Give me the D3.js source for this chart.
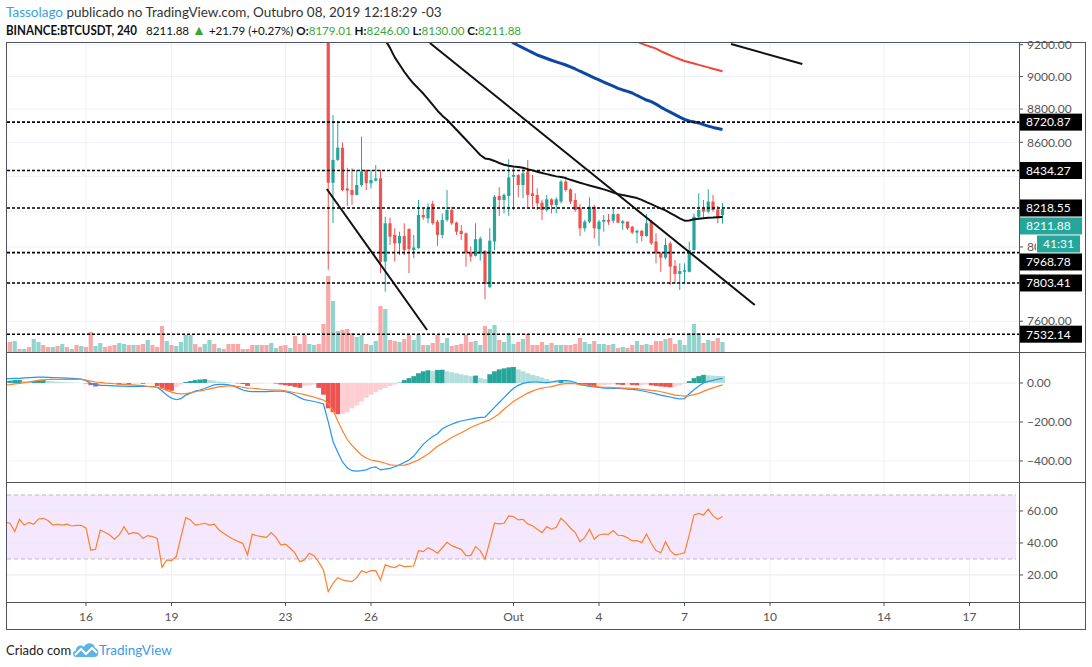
<!DOCTYPE html>
<html>
<head>
<meta charset="utf-8">
<script src="https://cdn.jsdelivr.net/npm/d3@7"></script>
<style>
  body { margin: 0; background: #fff; }
  svg text { font-family: Lato, "Liberation Sans", sans-serif; }
</style>
</head>
<body>
<svg id="chart" width="1092" height="667"></svg>
<script>
// ---- data (BINANCE:BTCUSDT, 240) ----
const dateTicks = [17, 35, 59, 77, 107, 125, 143, 161, 185, 203];   // bar index of each date label
const dateLabels = ["16", "19", "23", "26", "Out", "4", "7", "10", "14", "17"];

const priceTicks = [7600, 7800, 8000, 8200, 8400, 8600, 8800, 9000, 9200];
const macdTicks = [0, -200, -400];
const rsiTicks = [60, 40, 20];

// candles visible in the price pane start at bar 68 (earlier bars sit above 9200)
const candleStart = 68;
const open = [9660, 8363, 8496, 8568, 8330, 8321, 8293, 8350, 8437, 8360, 8375, 8389, 7919, 8132, 8067, 8020, 8061, 8100, 7983, 7993,
  8179, 8160, 8243, 8141, 8067, 8151, 8207, 8136, 8090, 8076, 7970, 7951, 7963, 7978, 7781, 8030, 8287, 8264, 8287, 8398,
  8408, 8350, 8428, 8302, 8293, 8249, 8207, 8268, 8236, 8255, 8370, 8325, 8264, 8217, 8104, 8141, 8226, 8099, 8141, 8151,
  8147, 8184, 8132, 8141, 8113, 8080, 8090, 8061, 8141, 8030, 7965, 7941, 8020, 7896, 7852, 7864, 7864, 7983, 8169, 8217,
  8198, 8255, 8210, 8179.01];
const high = [9700, 8764, 8724, 8600, 8450, 8447, 8437, 8634, 8440, 8437, 8466, 8437, 8169, 8165, 8104, 8085, 8132, 8104, 8067, 8264,
  8217, 8245, 8260, 8151, 8188, 8321, 8226, 8141, 8123, 8080, 8002, 8132, 8057, 7983, 8104, 8293, 8337, 8302, 8500, 8452,
  8413, 8447, 8496, 8408, 8331, 8264, 8293, 8274, 8279, 8379, 8398, 8331, 8302, 8240, 8151, 8279, 8236, 8151, 8179, 8184,
  8217, 8188, 8151, 8143, 8117, 8095, 8095, 8184, 8151, 8076, 7974, 8048, 8030, 7928, 7910, 7910, 8030, 8188, 8302, 8264,
  8325, 8293, 8230, 8246];
const low = [7875, 8133, 8490, 8315, 8230, 8236, 8290, 8341, 8321, 8331, 8370, 7856, 7757, 8011, 7919, 7956, 7956, 7856, 7938, 7990,
  8151, 8132, 8123, 8006, 8048, 8141, 8123, 8067, 8039, 7892, 7919, 7947, 7925, 7716, 7775, 7983, 8173, 8188, 8173, 8207,
  8279, 8274, 8222, 8226, 8207, 8151, 8198, 8188, 8188, 8245, 8312, 8241, 8198, 8061, 8085, 8132, 8048, 8006, 8085, 8123,
  8132, 8132, 8095, 8095, 8072, 8020, 8030, 8057, 8011, 7910, 7864, 7932, 7793, 7802, 7766, 7802, 7861, 7980, 8160, 8165,
  8188, 8198, 8132, 8130];
const close = [8363, 8496, 8568, 8321, 8318, 8293, 8350, 8428, 8360, 8379, 8389, 7919, 8132, 8057, 8020, 8061, 7983, 7988, 7997, 8179,
  8165, 8217, 8132, 8067, 8151, 8207, 8132, 8085, 8072, 7970, 7947, 8043, 8046, 7798, 8035, 8283, 8264, 8293, 8394, 8408,
  8350, 8418, 8293, 8287, 8245, 8207, 8268, 8236, 8268, 8370, 8321, 8255, 8207, 8104, 8141, 8226, 8104, 8141, 8151, 8141,
  8184, 8136, 8143, 8104, 8080, 8090, 8061, 8132, 8020, 7965, 7941, 8011, 7892, 7852, 7868, 7873, 7983, 8169, 8207, 8198,
  8255, 8207, 8169, 8211.88];

// volume, thousand BTC, for all 152 bars
const volumeK = [9, 10, 11, 3, 3, 5, 13, 10, 7, 5, 5, 6, 8, 5, 3, 7, 6, 5, 20, 6,
  9, 5, 6, 7, 9, 8, 7, 7, 7, 8, 12, 7, 5, 26, 11, 7, 6, 10, 17, 17,
  8, 5, 8, 12, 8, 4, 3, 8, 8, 8, 3, 3, 7, 7, 7, 7, 9, 4, 6, 7,
  4, 16, 8, 17, 8, 7, 8, 28, 76, 51, 21, 22, 23, 19, 15, 17, 8, 7, 11, 46,
  43, 12, 11, 10, 13, 17, 12, 17, 7, 7, 9, 17, 9, 14, 6, 7, 8, 17, 10, 11,
  7, 26, 23, 27, 12, 10, 19, 8, 10, 13, 18, 7, 7, 10, 7, 9, 7, 7, 7, 7,
  8, 14, 10, 8, 11, 8, 8, 7, 8, 4, 5, 4, 7, 11, 7, 8, 7, 11, 11, 13,
  14, 8, 12, 7, 19, 28, 19, 9, 12, 11, 14, 10];
// up/down of the bars hidden above the pane (0..67)
const volDirEarly = ("ddududuudd" + "ududududdu" + "uddduududd" + "uddduduuuu" +
  "dduududddd" + "dddudduudd" + "uddduudd").split("");

// moving averages
const maBlackStart = 78;
const maBlack = [9350, 9290, 9230, 9180, 9120, 9075, 9030, 8990, 8955, 8925, 8895, 8860, 8825, 8790, 8760, 8735, 8705, 8675, 8645, 8615,
  8585, 8555, 8525, 8505, 8500, 8490, 8478, 8468, 8462, 8457, 8455, 8450, 8442, 8435, 8427, 8420, 8413, 8406, 8400, 8396,
  8390, 8380, 8372, 8363, 8355, 8347, 8340, 8333, 8325, 8316, 8306, 8298, 8292, 8287, 8281, 8275, 8265, 8252, 8240, 8228,
  8216, 8205, 8190, 8175, 8160, 8147, 8148, 8155, 8158, 8161, 8163, 8164, 8166, 8167];
const maBlueStart = 106;
const maBlue = [9235, 9211, 9195, 9180, 9165, 9150, 9135, 9124, 9113, 9102, 9092, 9082, 9072, 9060, 9047, 9033, 9020, 9006, 8992, 8979,
  8966, 8953, 8940, 8927, 8917, 8908, 8898, 8883, 8869, 8855, 8845, 8830, 8812, 8796, 8781, 8766, 8751, 8737, 8728, 8722,
  8716, 8706, 8697, 8689, 8683, 8677];
const maRedStart = 133;
const maRed = [9220, 9207, 9196, 9186, 9175, 9160, 9146, 9133, 9120, 9108, 9097, 9089, 9081, 9073, 9065, 9057, 9049, 9041, 9033];

// drawn trend lines [barIndex, price]
const trendLines = [
  [[89.4, 9211], [157.8, 7686]],
  [[67.7, 8327], [88.8, 7554]],
  [[152.8, 9205], [167.8, 9078]]
];
const levels = [8720.87, 8434.27, 8218.55, 7968.78, 7803.41, 7532.14];
const lastPrice = 8211.88;
const countdown = "41:31";

// MACD (12, 26, 9)
const macd = [22, 23, 24, 24, 26, 28, 29, 30, 30, 29, 28, 27, 26, 25, 24, 22, 20, 12, -2, -8,
  -12, -13, -14, -15, -16, -16, -17, -17, -17, -18, -18, -19, -22, -40, -62, -78, -86, -80, -62, -52,
  -42, -36, -28, -18, -10, -7, -7, -10, -15, -25, -36, -42, -44, -44, -44, -44, -43, -42, -41, -45,
  -51, -62, -75, -85, -90, -95, -100, -108, -200, -300, -355, -405, -435, -450, -452, -450, -446, -435, -430, -446,
  -442, -438, -430, -420, -408, -395, -375, -345, -315, -293, -275, -260, -235, -222, -212, -202, -195, -190, -185, -180,
  -176, -175, -150, -125, -100, -75, -50, -27, -12, -2, 3, 5, 5, 3, 2, 5, 10, 12, 12, 10,
  2, -8, -12, -17, -20, -23, -26, -27, -28, -28, -29, -31, -33, -35, -40, -45, -50, -56, -62, -67,
  -72, -78, -82, -80, -55, -35, -15, 0, 8, 13, 19, 24];
const signal = [-10, -8, -5, -2, 2, 6, 10, 13, 16, 18, 19, 19, 19, 19, 19, 19, 19, 15, 10, 5,
  3, 0, -2, -4, -6, -7, -8, -10, -12, -14, -17, -19, -21, -28, -38, -47, -53, -56, -55, -50,
  -45, -40, -36, -30, -25, -20, -17, -15, -15, -18, -22, -26, -27, -29, -32, -34, -35, -36, -36, -40,
  -45, -50, -54, -60, -66, -72, -80, -87, -105, -140, -195, -245, -290, -320, -345, -370, -385, -395, -400, -405,
  -412, -420, -422, -422, -421, -415, -405, -395, -380, -365, -345, -325, -310, -295, -280, -267, -255, -242, -228, -218,
  -208, -198, -190, -175, -158, -135, -115, -95, -80, -65, -52, -42, -32, -26, -22, -19, -12, -6, -3, -2,
  -4, -8, -10, -13, -17, -20, -22, -23, -24, -25, -26, -26, -27, -29, -32, -35, -38, -40, -45, -50,
  -56, -62, -65, -67, -65, -60, -53, -43, -33, -25, -17, -10];
const histogram = [10, 12, 15, 15, 8, 5, 10, 15, 15, 10, 8, 6, 5, 3, 2, 1, 0, -2, -10, -18,
  -15, -8, -5, -3, -8, -3, -5, -3, -2, -4, -2, -1, -15, -25, -35, -40, -20, -8, 5, 10,
  15, 18, 20, 15, 12, 8, 5, 2, 0, -2, -5, -15, -3, -2, -2, -1, -1, -3, -8, -12,
  -15, -20, -25, -15, -12, -8, -25, -60, -130, -150, -160, -160, -150, -130, -115, -95, -75, -60, -47, -35,
  -25, -15, -8, 2, 15, 25, 35, 50, 60, 65, 62, 67, 68, 60, 55, 50, 45, 40, 35, 38,
  25, 20, 45, 60, 70, 75, 80, 82, 70, 60, 50, 42, 35, 28, 20, 12, 6, 12, 8, 5,
  2, -5, -8, -12, -15, -12, -10, -8, -6, -8, -10, -8, -10, -12, -10, -8, -12, -15, -18, -20,
  -22, -18, -12, -5, 10, 25, 35, 42, 40, 38, 36, 35];

// RSI (14)
const rsi = [53, 52.3, 47.1, 54.8, 51.2, 52.9, 51.7, 55, 55.4, 54, 51.2, 51.7, 51.2, 51.7, 50.6, 51, 51, 49.2, 35.6, 36,
  48.1, 46.7, 45, 42.3, 45, 50.2, 45.6, 46.5, 46, 42.9, 44.6, 44, 42.9, 24.8, 29.4, 29, 31.5, 44, 55.8, 54.4,
  51.2, 51.7, 52.3, 51.2, 51.7, 48.1, 46, 44, 42.3, 41, 39.8, 32.5, 45.4, 44.5, 44, 43.5, 46.5, 43.5, 38.8, 39.2,
  36.7, 33.6, 28.3, 29.4, 33.6, 32.1, 28, 23.1, 9.6, 14.8, 18.3, 16.9, 16.3, 15.8, 18.3, 22.7, 21.5, 22.7, 22.7, 16.9,
  26.3, 25.2, 24.6, 26.3, 25.2, 25.4, 25.6, 35.2, 34.6, 37.1, 35.6, 33.6, 37, 40.4, 38.3, 37.1, 36, 32.1, 32.1, 37.7,
  35.2, 29.8, 40.8, 52.3, 51.9, 52.3, 56.9, 56.5, 54.4, 54.8, 51.9, 50.8, 48.6, 46.5, 50.2, 48.6, 49.8, 55.4, 52.7, 49.2,
  46.5, 40.8, 43.5, 48.6, 42.3, 45, 45.6, 45.4, 47.7, 44.8, 44.6, 43.3, 41.3, 41.5, 40.2, 45.6, 39.8, 35.2, 33.9, 40.8,
  35.2, 32.5, 33.1, 33.9, 45, 57.5, 58.5, 57.5, 61.1, 56.9, 54.8, 56.5];

// ---- layout ----
const L = 7, R = 1019, AX = 1085, T = 43, mainB = 352, macdB = 482, rsiB = 602, B = 630;
const UP = "#26a69a", DOWN = "#ef5350", FRAME = "#50535e", GRID = "#edf1f7", AXTXT = "#555";

const svg = d3.select("#chart");

const x = d3.scaleLinear().domain([0, 203]).range([5.25, 969.5]);
const yP = d3.scaleLog().domain([7440, 9211]).range([mainB, T]);
const yV = d3.scaleLinear().domain([0, 100]).range([mainB, mainB - 100]);
const yM = d3.scaleLinear().domain([-508, 159]).range([macdB, mainB]);
const yR = d3.scaleLinear().domain([3.1, 78.1]).range([rsiB, mainB + 130]);

// clip paths per pane
const defs = svg.append("defs");
[["clipMain", T, mainB], ["clipMacd", mainB, macdB], ["clipRsi", macdB, rsiB]].forEach(([id, y0, y1]) => {
  defs.append("clipPath").attr("id", id).append("rect")
    .attr("x", L).attr("y", y0).attr("width", R - L).attr("height", y1 - y0);
});

// ---- grid ----
const grid = svg.append("g");
grid.selectAll(".vg").data(dateTicks).enter().append("line")
  .attr("x1", d => x(d)).attr("x2", d => x(d)).attr("y1", T).attr("y2", rsiB)
  .attr("stroke", GRID);
grid.selectAll(".pg").data(priceTicks).enter().append("line")
  .attr("x1", L).attr("x2", R).attr("y1", d => yP(d)).attr("y2", d => yP(d)).attr("stroke", GRID);
grid.selectAll(".mg").data(macdTicks).enter().append("line")
  .attr("x1", L).attr("x2", R).attr("y1", d => yM(d)).attr("y2", d => yM(d)).attr("stroke", GRID);

// ---- main pane ----
const main = svg.append("g").attr("clip-path", "url(#clipMain)");

const volDir = volumeK.map((v, i) => i < candleStart ? volDirEarly[i] :
  (close[i - candleStart] >= open[i - candleStart] ? "u" : "d"));
main.selectAll(".vol").data(volumeK).enter().append("rect")
  .attr("x", (d, i) => x(i) - 2.1).attr("width", 4.2)
  .attr("y", d => yV(d)).attr("height", d => mainB - yV(d))
  .attr("fill", (d, i) => volDir[i] === "u" ? "#92d3cc" : "#f7a9a7");

const candles = open.map((o, k) => ({ i: candleStart + k, o, h: high[k], l: low[k], c: close[k] }));
const cg = main.selectAll(".candle").data(candles).enter().append("g");
cg.append("line")
  .attr("x1", d => x(d.i)).attr("x2", d => x(d.i))
  .attr("y1", d => yP(d.h)).attr("y2", d => yP(d.l))
  .attr("stroke", d => d.c >= d.o ? UP : DOWN).attr("stroke-width", 1);
cg.append("rect")
  .attr("x", d => x(d.i) - 1.6).attr("width", 3.2)
  .attr("y", d => yP(Math.max(d.o, d.c)))
  .attr("height", d => Math.max(1, Math.abs(yP(d.o) - yP(d.c))))
  .attr("fill", d => d.c >= d.o ? UP : DOWN);

function maLine(values, start, color, width) {
  main.append("path")
    .datum(values)
    .attr("fill", "none").attr("stroke", color).attr("stroke-width", width)
    .attr("stroke-linejoin", "round")
    .attr("d", d3.line().x((d, k) => x(start + k)).y(d => yP(d)));
}
maLine(maBlack, maBlackStart, "#111", 2);
maLine(maBlue, maBlueStart, "#0d47a1", 3);
maLine(maRed, maRedStart, "#f44336", 2);

main.selectAll(".trend").data(trendLines).enter().append("line")
  .attr("x1", d => x(d[0][0])).attr("y1", d => yP(d[0][1]))
  .attr("x2", d => x(d[1][0])).attr("y2", d => yP(d[1][1]))
  .attr("stroke", "#111").attr("stroke-width", 2);

main.selectAll(".level").data(levels).enter().append("line")
  .attr("x1", L).attr("x2", R).attr("y1", d => yP(d)).attr("y2", d => yP(d))
  .attr("stroke", "#000").attr("stroke-width", 1.6).attr("stroke-dasharray", "3,2");

// ---- MACD pane ----
const mp = svg.append("g").attr("clip-path", "url(#clipMacd)");
mp.selectAll(".hist").data(histogram).enter().append("rect")
  .attr("x", (d, i) => x(i) - 2.4).attr("width", 4.8)
  .attr("y", d => Math.min(yM(d), yM(0))).attr("height", d => Math.abs(yM(d) - yM(0)))
  .attr("fill", (d, i) => {
    const prev = i > 0 ? histogram[i - 1] : d;
    if (d >= 0) return d >= prev ? "#26a69a" : "#b2dfdb";
    return d < prev ? "#ef5350" : "#ffcdd2";
  });
mp.append("path").datum(macd)
  .attr("fill", "none").attr("stroke", "#2196f3").attr("stroke-width", 1.2)
  .attr("d", d3.line().x((d, i) => x(i)).y(d => yM(d)));
mp.append("path").datum(signal)
  .attr("fill", "none").attr("stroke", "#ff7f2a").attr("stroke-width", 1.2)
  .attr("d", d3.line().x((d, i) => x(i)).y(d => yM(d)));

// ---- RSI pane ----
const rp = svg.append("g").attr("clip-path", "url(#clipRsi)");
rp.append("rect").attr("x", L).attr("width", R - L - 3)
  .attr("y", yR(70)).attr("height", yR(30) - yR(70)).attr("fill", "#f5e8fe");
rp.selectAll(".rg").data(rsiTicks).enter().append("line")
  .attr("x1", L).attr("x2", R).attr("y1", d => yR(d)).attr("y2", d => yR(d))
  .attr("stroke", "#e8e6f2");
rp.selectAll(".rb").data([70, 30]).enter().append("line")
  .attr("x1", L).attr("x2", R - 3).attr("y1", d => yR(d)).attr("y2", d => yR(d))
  .attr("stroke", "#bdb6c6").attr("stroke-dasharray", "4,3");
rp.append("path").datum(rsi)
  .attr("fill", "none").attr("stroke", "#ff7f2a").attr("stroke-width", 1.2)
  .attr("d", d3.line().x((d, i) => x(i)).y(d => yR(d)));

// ---- frame ----
const frame = svg.append("g").attr("stroke", FRAME).attr("stroke-width", 1).attr("shape-rendering", "crispEdges");
frame.append("rect").attr("x", L - 0.5).attr("y", T - 0.5).attr("width", AX - L + 0.5).attr("height", B - T).attr("fill", "none");
frame.append("line").attr("x1", R + 0.5).attr("x2", R + 0.5).attr("y1", T).attr("y2", B);
[mainB, macdB, rsiB].forEach(yy => frame.append("line").attr("x1", L).attr("x2", AX).attr("y1", yy + 0.5).attr("y2", yy + 0.5));

// ---- price-axis tags, pushed down when they overlap ----
const fmt = d3.format(".2f");
const tags = levels.map(v => ({ v, y: yP(v), fill: "#000", text: fmt(v), x0: R + 1, w: 62 }));
tags.push({ v: lastPrice, y: yP(lastPrice), fill: UP, text: fmt(lastPrice), x0: R + 1, w: 62, timer: true });
tags.sort((a, b) => a.y - b.y);
const tagH = 18;
let lastBottom = -Infinity;
const placed = [];
tags.forEach(t => {
  const yy = Math.max(t.y, lastBottom + tagH);
  placed.push({ ...t, y: yy });
  lastBottom = yy;
  if (t.timer) {
    lastBottom = yy + tagH;
    placed.push({ y: lastBottom, fill: UP, text: countdown, x0: R + 18, w: 43 });
  }
});

// ---- axes ----
const minus = s => s.replace("-", "\u2212");
// a tick label fully hidden behind a full-width tag is not drawn;
// one partly covered by the narrow timer tag is clipped to what shows
const hidden = v => placed.some(p => p.x0 === R + 1 && Math.abs(p.y - yP(v)) < 6);
const timerTag = placed.find(p => p.text === countdown);
defs.append("clipPath").attr("id", "clipTimer").append("rect")
  .attr("x", R).attr("y", 0).attr("width", timerTag.x0 - R - 1).attr("height", 667);
const underTimer = v => Math.abs(timerTag.y - yP(v)) < 12;
function axisLabels(ticks, scale, skip) {
  const g = svg.append("g");
  g.selectAll("line").data(ticks).enter().append("line")
    .attr("x1", R).attr("x2", R + 4).attr("y1", d => scale(d)).attr("y2", d => scale(d))
    .attr("stroke", FRAME);
  g.selectAll("text").data(ticks.filter(d => !skip || !skip(d))).enter().append("text")
    .attr("x", R + 8).attr("y", d => scale(d)).attr("dy", "0.35em")
    .attr("fill", AXTXT).style("font-size", "12px")
    .attr("clip-path", d => scale === yP && underTimer(d) ? "url(#clipTimer)" : null)
    .text(d => minus(fmt(d)));
}
axisLabels(priceTicks, yP, hidden);
axisLabels(macdTicks, yM);
axisLabels(rsiTicks, yR);

const xa = svg.append("g");
xa.selectAll("line").data(dateTicks).enter().append("line")
  .attr("x1", d => x(d)).attr("x2", d => x(d)).attr("y1", rsiB).attr("y2", rsiB + 4).attr("stroke", FRAME);
xa.selectAll("text").data(dateTicks).enter().append("text")
  .attr("x", d => x(d)).attr("y", 621).attr("text-anchor", "middle")
  .attr("fill", AXTXT).style("font-size", "12px")
  .text((d, i) => dateLabels[i]);

const tg = svg.append("g").selectAll("g").data(placed).enter().append("g");
tg.append("rect")
  .attr("x", d => d.x0).attr("y", d => d.y - 8.5).attr("width", d => d.w).attr("height", 17)
  .attr("fill", d => d.fill);
tg.append("text")
  .attr("x", d => d.x0 + 6).attr("y", d => d.y).attr("dy", "0.36em")
  .attr("fill", "#fff").style("font-size", "12px")
  .text(d => d.text);

// ---- header ----
const GREEN = "#3aa63a";
const h1 = svg.append("text").attr("x", 6).attr("y", 17).style("font-size", "13.5px").attr("fill", "#333");
h1.append("tspan").attr("fill", "#3b9fe0").text("Tassolago");
h1.append("tspan").text(" publicado no TradingView.com, Outubro 08, 2019 12:18:29 -03");

svg.append("text").attr("x", 6).attr("y", 35).style("font-size", "12.5px").attr("font-weight", "bold")
  .attr("fill", "#111").attr("textLength", 131).attr("lengthAdjust", "spacingAndGlyphs")
  .text("BINANCE:BTCUSDT, 240");
const h2 = svg.append("text").attr("x", 146).attr("y", 35).style("font-size", "11.6px").attr("fill", "#111");
const parts = [
  ["8211.88 ", "normal", "#111"], ["\u25B2", "normal", GREEN],
  [" +21.79 (+0.27%) ", "normal", "#111"], ["O:", "bold", "#111"], ["8179.01", "normal", GREEN],
  [" H:", "bold", "#111"], ["8246.00", "normal", GREEN], [" L:", "bold", "#111"], ["8130.00", "normal", GREEN],
  [" C:", "bold", "#111"], ["8211.88", "normal", GREEN]
];
parts.forEach(([t, w, c]) => {
  const ts = h2.append("tspan").attr("font-weight", w).attr("fill", c).text(t);
  if (t === "\u25B2") ts.style("font-size", "14px");
});

// ---- footer ----
svg.append("text").attr("x", 6).attr("y", 655).style("font-size", "13px").attr("fill", "#222").text("Criado com");
const logo = svg.append("g").attr("transform", "translate(73,642)");
logo.append("path")
  .attr("d", "M3,15 C-1,15 -1,9 3,8.5 C3,4 8,2 11,5 C13,0 21,0 22,6 C26,6 27,15 22,15 Z")
  .attr("fill", "#5bb4e5");
logo.append("path").attr("d", "M2,13 L8,7 L13,12 L19,6 L24,11")
  .attr("fill", "none").attr("stroke", "#fff").attr("stroke-width", 2);
svg.append("text").attr("x", 99).attr("y", 655).style("font-size", "13.5px").attr("fill", "#3d9be9").text("TradingView");
</script>
</body>
</html>
